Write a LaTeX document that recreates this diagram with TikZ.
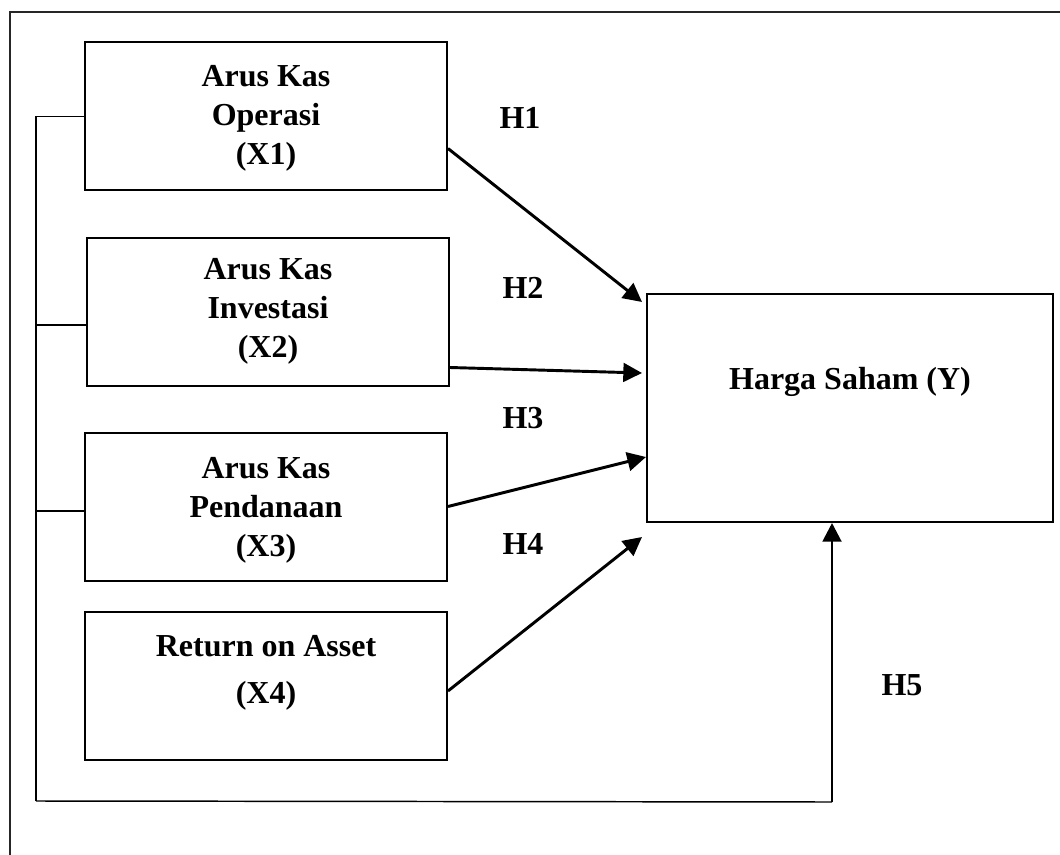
\documentclass[tikz,border=0pt]{standalone}
\usepackage{fontspec}
\setmainfont{Liberation Serif}
\usetikzlibrary{arrows.meta,calc}

\tikzset{
  varbox/.style={draw,line width=1.5pt,minimum width=271.5pt,minimum height=111pt,inner sep=0pt},
  varlbl/.style={font=\fontsize{24}{29.5}\selectfont\bfseries,align=center,inner sep=0pt},
  hyp/.style={font=\fontsize{24}{28}\selectfont\bfseries,inner sep=0pt},
  link/.style={line width=2.2pt,-{Triangle[length=14pt,width=14pt]}},
  bus/.style={line width=1.1pt},
}

\begin{document}
\begin{tikzpicture}[x=0.75pt,y=-0.75pt]
\useasboundingbox (0,0) rectangle (1060,855);

% outer frame
\draw[line width=1.4pt,black!85] (1060,12) -- (10,12) -- (10,855);

% independent variables
\node[varbox] (x1) at (266,116.5) {};
\node[varlbl] (x1t) at ($(x1)+(0,2)$) {Arus Kas\\Operasi\\(X1)};
\node[varbox] (x2) at (268,312.5) {};
\node[varlbl] (x2t) at ($(x2)+(0,-1)$) {Arus Kas\\Investasi\\(X2)};
\node[varbox] (x3) at (266,506.5) {};
\node[varlbl] (x3t) at ($(x3)+(0,4)$) {Arus Kas\\Pendanaan\\(X3)};
\node[varbox] (x4) at (266,686) {};
\node[varlbl] (x4t) at ($(x4)+(0,-13)$) {Return on Asset\\[6pt](X4)};

% dependent variable
\node[varbox,minimum width=304.5pt,minimum height=171pt] (y) at (850,408) {};
\node[varlbl] (yt) at ($(y)+(0,-26)$) {Harga Saham (Y)};

% hypotheses
\node[hyp] (h1) at (520,118) {H1};
\node[hyp] (h2) at (523,288) {H2};
\node[hyp] (h3) at (523,418) {H3};
\node[hyp] (h4) at (523,544) {H4};
\node[hyp] (h5) at (902,685) {H5};

% partial effects
\draw[link] ($(x1.east)+(0,32)$) -- ($(y.west)+(-4,-106)$);
\draw[link] ($(x2.east)+(0,55)$) -- ($(y.west)+(-4,-35)$);
\draw[link] (x3.east) -- ($(y.west)+(0,49)$);
\draw[link] ($(x4.east)+(0,5)$) -- ($(y.west)+(-4,129)$);

% simultaneous effect
\coordinate (bus1) at (36,116.5);
\coordinate (bus2) at (36,325);
\coordinate (bus3) at (36,511);
\coordinate (busend) at (36,801);
\draw[bus] (x1.west) -- (bus1) -- (busend);
\draw[bus] ($(x2.west)+(0,12.5)$) -- (bus2);
\draw[bus] ($(x3.west)+(0,4.5)$) -- (bus3);
\draw[bus] (busend) -- ($(y.south)+(-18,279)$);
\draw[link] ($(y.south)+(-18,279)$) -- ($(y.south)+(-18,0)$);
\end{tikzpicture}
\end{document}
